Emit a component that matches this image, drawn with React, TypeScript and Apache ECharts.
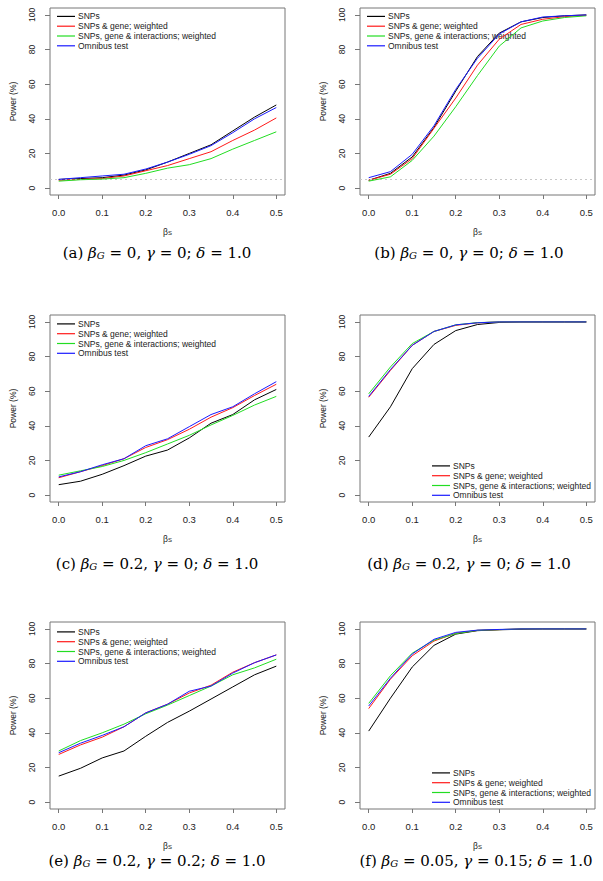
import { useEffect, useRef } from 'react';
import * as echarts from 'echarts';

// ---------- data ----------
const BETA_S = [0, 0.05, 0.1, 0.15, 0.2, 0.25, 0.3, 0.35, 0.4, 0.45, 0.5];
const X_TICKS = [0, 0.1, 0.2, 0.3, 0.4, 0.5];
const Y_TICKS = [0, 20, 40, 60, 80, 100];
const SERIES_NAMES = ['SNPs', 'SNPs & gene; weighted', 'SNPs, gene & interactions; weighted', 'Omnibus test'];
const NOMINAL_LEVEL = 5;

const A_SNPS = [5, 5.5, 6, 7.5, 10.5, 15, 20, 25, 33, 41, 48];
const A_GENE = [4.5, 5, 5.5, 7, 10, 13, 17, 21, 27.5, 33.5, 40.5];
const A_INT = [4, 4.8, 5.2, 6, 8.5, 11.5, 13.5, 17, 22.5, 27.5, 32.5];
const A_OMNI = [5, 6, 7, 8, 11, 15, 19.5, 24.5, 32, 40, 46.5];

const B_SNPS = [4.5, 8.5, 18, 35, 56, 76, 89.5, 96, 98.5, 99.5, 100];
const B_GENE = [4.5, 8, 17, 34.5, 52, 71, 86, 94.5, 97.5, 99, 99.8];
const B_INT = [4, 6.5, 16, 30, 47, 65, 82, 92.5, 96.5, 98.5, 99.5];
const B_OMNI = [6, 9.5, 19.5, 36, 57, 75, 89, 96, 98.8, 99.5, 100];

const C_SNPS = [6, 8, 12, 17, 22.5, 26, 33, 41.5, 46.5, 55, 61];
const C_GENE = [10, 13.5, 17, 21, 27.5, 32, 38, 45, 50.5, 57.5, 64];
const C_INT = [11.5, 14, 16.5, 20, 24.5, 29.5, 34.5, 40.5, 46, 52, 57];
const C_OMNI = [10.5, 13.5, 17.5, 21, 28.5, 32.5, 39.5, 46.5, 51, 58.5, 65.5];

const D_SNPS = [33.5, 51, 73, 87, 95, 98.5, 99.7, 100, 100, 100, 100];
const D_GENE = [56.5, 72, 86.5, 94.5, 98, 99.5, 100, 100, 100, 100, 100];
const D_INT = [58.5, 74, 87.5, 94.5, 98.3, 99.6, 100, 100, 100, 100, 100];
const D_OMNI = [57, 72.5, 86.5, 94.5, 98.3, 99.5, 100, 100, 100, 100, 100];

const E_SNPS = [15, 19.5, 25.5, 29.5, 38, 46, 52.5, 59.5, 66.5, 73.5, 78.5];
const E_GENE = [27.5, 33, 37.5, 43.5, 51.5, 56.5, 63, 67.5, 75, 80.5, 85];
const E_INT = [29.5, 35.5, 40, 45, 51, 56, 61.5, 67, 73.5, 77.5, 82.5];
const E_OMNI = [28.5, 34, 38.5, 43.5, 51.5, 56.5, 64, 67, 74.5, 80.5, 85];

const F_SNPS = [41, 60, 78, 90.5, 97, 99, 99.5, 99.8, 100, 100, 100];
const F_GENE = [54, 71, 84.5, 93, 97.5, 99.2, 99.6, 100, 100, 100, 100];
const F_INT = [57, 73, 86, 93.5, 97.3, 99.2, 99.6, 100, 100, 100, 100];
const F_OMNI = [55.5, 71.5, 85.5, 94, 98, 99.3, 99.7, 100, 100, 100, 100];

const PANEL_DATA = [
  [A_SNPS, A_GENE, A_INT, A_OMNI],
  [B_SNPS, B_GENE, B_INT, B_OMNI],
  [C_SNPS, C_GENE, C_INT, C_OMNI],
  [D_SNPS, D_GENE, D_INT, D_OMNI],
  [E_SNPS, E_GENE, E_INT, E_OMNI],
  [F_SNPS, F_GENE, F_INT, F_OMNI],
];
const PANEL_LABELS = ['(a)', '(b)', '(c)', '(d)', '(e)', '(f)'];
const PANEL_BETA_G = ['0', '0', '0.2', '0.2', '0.2', '0.05'];
const PANEL_GAMMA = ['0', '0', '0', '0', '0.2', '0.15'];
const PANEL_DELTA = ['1.0', '1.0', '1.0', '1.0', '1.0', '1.0'];
const PANEL_SHOW_LEVEL = [true, true, false, false, false, false];

// ---------- layout ----------
const COLORS = ['#000000', '#ff1a1a', '#22dd22', '#1a1aff'];
const GRID_LEFT = [50, 360];
const GRID_TOP = [8, 315, 622];
const GRID_W = 235;
const GRID_H = 187;
const LEGEND_POS = [
  { left: 57, top: 11.5 },
  { left: 367, top: 11.5 },
  { left: 57, top: 319 },
  { left: 432, top: 461 },
  { left: 57, top: 627 },
  { left: 432, top: 768 },
];
const CAPTION_POS = [
  { x: 157, y: 253 },
  { x: 469, y: 253 },
  { x: 157, y: 564 },
  { x: 469, y: 564 },
  { x: 157, y: 861 },
  { x: 476, y: 861 },
];

const SANS = 'Liberation Sans, Arial, Helvetica, sans-serif';
const SERIF = 'DejaVu Serif';
const TEXT_COLOR = '#222';
const BOX_COLOR = '#777';

export default function App() {
  const ref = useRef<HTMLDivElement>(null);

  useEffect(() => {
    document.body.style.margin = '0';
    if (!ref.current) return;
    const chart = echarts.init(ref.current, null, { renderer: 'svg' });

    const grids: any[] = [];
    const xAxes: any[] = [];
    const yAxes: any[] = [];
    const series: any[] = [];
    const legends: any[] = [];
    const graphics: any[] = [];

    PANEL_DATA.forEach((panel, p) => {
      const col = p % 2;
      const row = Math.floor(p / 2);
      grids.push({
        left: GRID_LEFT[col],
        top: GRID_TOP[row],
        width: GRID_W,
        height: GRID_H,
        show: true,
        borderColor: BOX_COLOR,
        borderWidth: 1,
        backgroundColor: 'transparent',
      });
      xAxes.push({
        type: 'value',
        gridIndex: p,
        min: -0.02,
        max: 0.52,
        position: 'bottom',
        axisLine: { show: false, onZero: false },
        splitLine: { show: false },
        axisTick: {
          show: true,
          length: 4,
          customValues: X_TICKS,
          lineStyle: { color: BOX_COLOR, width: 1 },
        },
        axisLabel: {
          show: true,
          customValues: X_TICKS,
          margin: 12,
          fontSize: 9.5,
          fontFamily: SANS,
          color: TEXT_COLOR,
          formatter: (v: number) => v.toFixed(1),
        },
        name: '{b|β}{s|S}',
        nameLocation: 'middle',
        nameGap: 32,
        nameTextStyle: {
          color: TEXT_COLOR,
          fontFamily: SANS,
          rich: {
            b: { fontSize: 8.5, fontFamily: SANS, color: TEXT_COLOR },
            s: { fontSize: 6, fontFamily: SANS, color: TEXT_COLOR, verticalAlign: 'bottom' },
          },
        },
      });
      yAxes.push({
        type: 'value',
        gridIndex: p,
        min: -4,
        max: 104,
        position: 'left',
        axisLine: { show: false, onZero: false },
        splitLine: { show: false },
        axisTick: {
          show: true,
          length: 5,
          customValues: Y_TICKS,
          lineStyle: { color: BOX_COLOR, width: 1 },
        },
        axisLabel: {
          show: true,
          customValues: Y_TICKS,
          rotate: 90,
          margin: 14,
          fontSize: 8.5,
          fontFamily: SANS,
          color: TEXT_COLOR,
        },
        name: 'Power (%)',
        nameLocation: 'middle',
        nameGap: 33,
        nameTextStyle: { fontSize: 8.5, fontFamily: SANS, color: TEXT_COLOR },
      });
      panel.forEach((vals, s) => {
        const ser: any = {
          type: 'line',
          name: SERIES_NAMES[s],
          xAxisIndex: p,
          yAxisIndex: p,
          data: BETA_S.map((b, i) => [b, vals[i]]),
          showSymbol: false,
          symbol: 'none',
          lineStyle: { color: COLORS[s], width: 1 },
          itemStyle: { color: COLORS[s] },
          z: 3 + s,
        };
        if (s === 0 && PANEL_SHOW_LEVEL[p]) {
          ser.markLine = {
            silent: true,
            symbol: 'none',
            label: { show: false },
            lineStyle: { color: '#c8c8c8', type: [2, 3], width: 1 },
            data: [{ yAxis: NOMINAL_LEVEL }],
          };
        }
        series.push(ser);
      });
      legends.push({
        data: SERIES_NAMES,
        orient: 'vertical',
        left: LEGEND_POS[p].left,
        top: LEGEND_POS[p].top,
        padding: 0,
        itemGap: 0,
        itemWidth: 18,
        itemHeight: 1.2,
        icon: 'rect',
        selectedMode: false,
        textStyle: {
          fontSize: 8.5,
          lineHeight: 9.8,
          fontFamily: SANS,
          color: TEXT_COLOR,
          padding: [0, 0, 0, -2],
        },
      });
      graphics.push({
        type: 'text',
        x: CAPTION_POS[p].x,
        y: CAPTION_POS[p].y,
        style: {
          text:
            `{t|${PANEL_LABELS[p]} }{i|β}{s|G}{t| = ${PANEL_BETA_G[p]}, }{i|γ}{t| = ${PANEL_GAMMA[p]}; }{i|δ}{t| = ${PANEL_DELTA[p]}}`,
          align: 'center',
          verticalAlign: 'middle',
          fill: '#000',
          rich: {
            t: { fontSize: 15, fontFamily: SERIF, fill: '#000' },
            i: { fontSize: 15, fontFamily: SERIF, fontStyle: 'italic', fill: '#000' },
            s: { fontSize: 10, fontFamily: SERIF, fontStyle: 'italic', fill: '#000', verticalAlign: 'bottom' },
          },
        },
      });
    });

    chart.setOption({
      animation: false,
      backgroundColor: '#ffffff',
      grid: grids,
      xAxis: xAxes,
      yAxis: yAxes,
      series,
      legend: legends,
      graphic: graphics,
    });

    return () => chart.dispose();
  }, []);

  return <div ref={ref} style={{ width: 603, height: 881 }} />;
}
